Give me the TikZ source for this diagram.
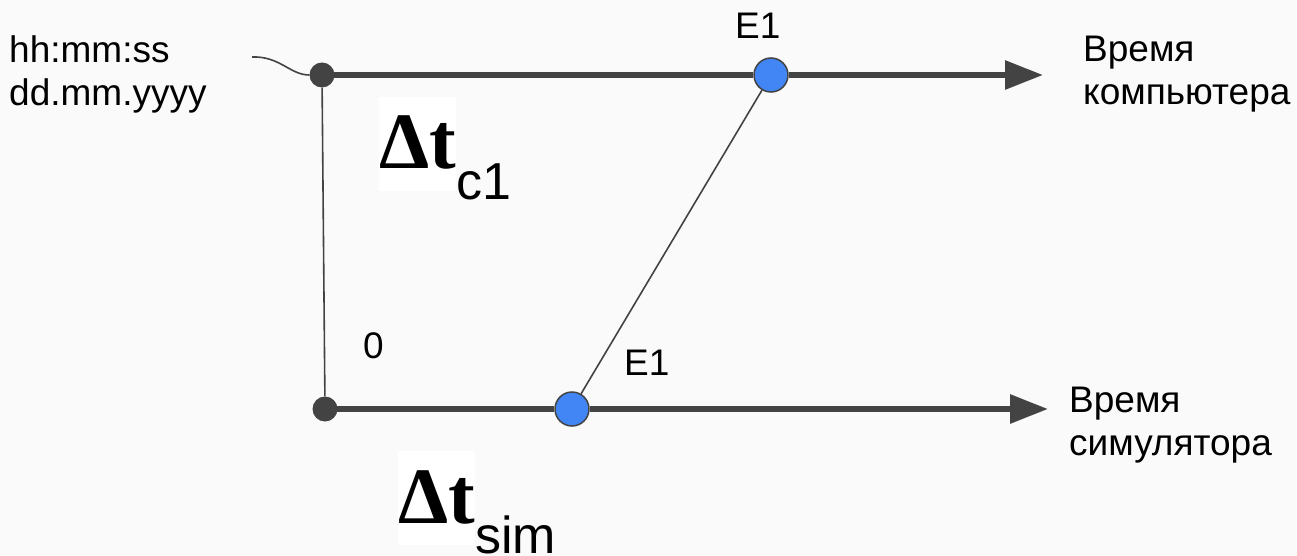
\documentclass[tikz,border=0pt]{standalone}
\usepackage{fontspec}
\setmainfont{Liberation Sans}
\newfontfamily\deltafont{Liberation Serif}
\usetikzlibrary{arrows.meta}
\definecolor{linegray}{HTML}{434343}
\definecolor{eventblue}{HTML}{4285F4}
\definecolor{pagebg}{HTML}{FAFAFA}

\begin{document}
\begin{tikzpicture}[x=1pt, y=-1pt,
  txt/.style={anchor=base west, inner sep=0pt, align=left, font=\fontsize{37}{43}\selectfont},
  timeline/.style={draw=linegray, line width=6pt},
  link/.style={draw=linegray, line width=1.6pt},
  enddot/.style={circle, fill=linegray, inner sep=0pt, minimum size=25pt},
  event/.style={circle, draw=linegray, line width=1.5pt, fill=eventblue, inner sep=0pt, minimum size=34pt},
  delta/.style={anchor=base west, inner sep=0pt, fill=white, text height=72pt, text depth=22pt,
    font=\deltafont\bfseries\fontsize{80}{90}\selectfont},
  subtxt/.style={anchor=base west, inner sep=0pt, font=\fontsize{52}{60}\selectfont}
]
\useasboundingbox (0,0) rectangle (1297,556);
\fill[pagebg] (0,0) rectangle (1297,556);

% computer time
\node[enddot] (c0) at (322,75) {};
\node[event] (ce) at (771,75) {};
\coordinate (ctip) at (1043,75);
\coordinate (cin) at (252,57);
\draw[timeline] (c0.center) -- (ce);
\draw[timeline, -{Triangle[length=38pt, width=28pt]}] (ce) -- (ctip);
\draw[link] (cin) .. controls (280,56) and (290,75) .. (c0);

% simulator time
\node[enddot] (s0) at (325,409) {};
\node[event] (se) at (572,409) {};
\coordinate (stip) at (1048,409);
\draw[timeline] (s0.center) -- (se);
\draw[timeline, -{Triangle[length=38pt, width=28pt]}] (se) -- (stip);

% links
\draw[link] (c0) -- (s0);
\draw[link] (ce) -- (se);

% labels (base = last line)
\node[txt] (clock) at (9,106) {hh:mm:ss\\dd.mm.yyyy};
\node[txt] (cename) at (735,39) {E1};
\node[txt] (sename) at (624,375) {E1};
\node[txt] (zero) at (363,358) {0};
\node[txt] (cname) at (1083,105) {Время\\компьютера};
\node[txt] (sname) at (1069,455) {Время\\симулятора};

\node[delta] (dtc) at (379,169) {Δt};
\node[subtxt] (dtcsub) at ([yshift=-30pt]dtc.base east) {c1};
\node[delta] (dts) at (398,523) {Δt};
\node[subtxt] (dtssub) at ([yshift=-30pt]dts.base east) {sim};
\end{tikzpicture}
\end{document}
